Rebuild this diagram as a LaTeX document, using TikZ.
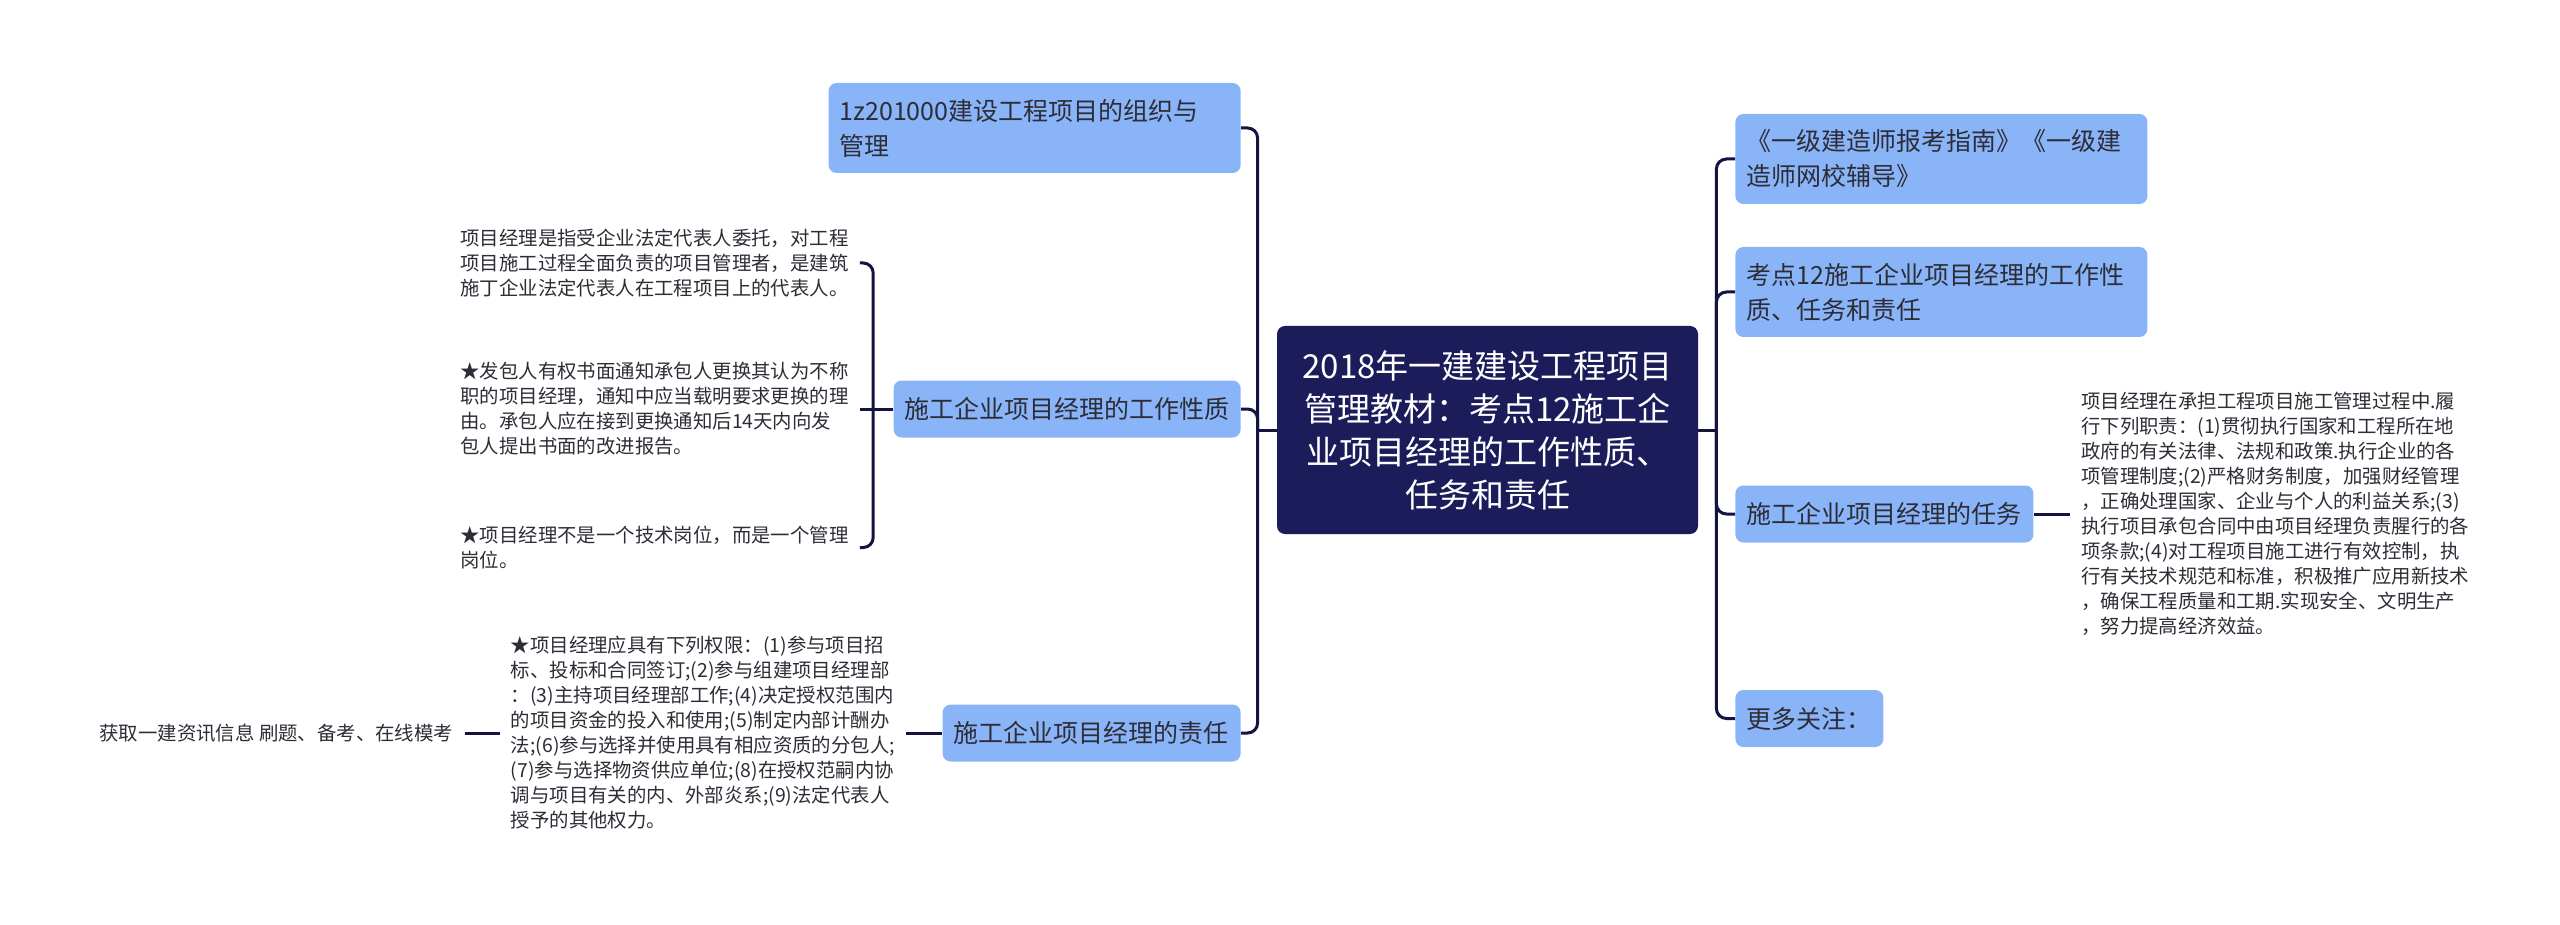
\documentclass[tikz,border=0pt]{standalone}
\usepackage{fontspec}
\setmainfont{Noto Sans CJK SC}
\usetikzlibrary{positioning}
\definecolor{RootNavy}{RGB}{29,28,90}
\definecolor{TopicBlue}{RGB}{138,180,248}
\definecolor{LineNavy}{RGB}{20,20,64}
\definecolor{TextDark}{RGB}{45,45,55}
\tikzset{
  rootbox/.style={rounded corners=4pt,fill=RootNavy,text=white,
    text width=195pt,minimum width=210.5pt,minimum height=104pt,
    align=center,font=\fontsize{16.5}{21.5}\selectfont},
  topicbox/.style={rounded corners=4pt,fill=TopicBlue,text=TextDark,
    inner xsep=5.5pt,align=left,font=\fontsize{12.5}{17.5}\selectfont},
  leaftext/.style={inner xsep=5.5pt,inner ysep=0pt,text=TextDark,
    align=left,font=\fontsize{9.7}{12.5}\selectfont},
  branch/.style={line width=1.5pt,draw=LineNavy,rounded corners=5pt},
}

\begin{document}
\begin{tikzpicture}[x=0.5pt,y=-0.5pt,node distance=18pt]
  \fill[white] (0,0) rectangle (2560,925);
  \useasboundingbox (0,0) rectangle (2560,925);

  % centre topic
  \node[rootbox] (root) at (1487.5,430) {2018年一建建设工程项目\\管理教材：考点12施工企\\业项目经理的工作性质、\\任务和责任};

  % left branches
  \node[topicbox,text width=195pt,minimum height=45pt,anchor=east] (org) at (1241,128) {1z201000建设工程项目的组织与\\管理};
  \node[topicbox,text width=162.5pt,minimum height=28.5pt,anchor=east] (nature) at (1241,409) {施工企业项目经理的工作性质};
  \node[topicbox,text width=138pt,minimum height=28.5pt,anchor=east] (duty) at (1241,733) {施工企业项目经理的责任};

  \node[leaftext,anchor=west] (nl1) at (449,263) {项目经理是指受企业法定代表人委托，对工程\\项目施工过程全面负责的项目管理者，是建筑\\施丁企业法定代表人在工程项目上的代表人。};
  \node[leaftext,anchor=west] (nl2) at (449,409) {★发包人有权书面通知承包人更换其认为不称\\职的项目经理，通知中应当载明要求更换的理\\由。承包人应在接到更换通知后14天内向发\\包人提出书面的改进报告。};
  \node[leaftext,anchor=west] (nl3) at (449,547.5) {★项目经理不是一个技术岗位，而是一个管理\\岗位。};

  \node[leaftext,left=18pt of duty] (dl) {★项目经理应具有下列权限：(1)参与项目招\\标、投标和合同签订;(2)参与组建项目经理部\\：(3)主持项目经理部工作;(4)决定授权范围内\\的项目资金的投入和使用;(5)制定内部计酬办\\法;(6)参与选择并使用具有相应资质的分包人;\\(7)参与选择物资供应单位;(8)在授权范嗣内协\\调与项目有关的内、外部炎系;(9)法定代表人\\授予的其他权力。};
  \node[leaftext,left=17.5pt of dl] (get) {获取一建资讯信息 刷题、备考、在线模考};

  % right branches
  \node[topicbox,text width=195pt,minimum height=45pt,anchor=west] (guide) at (1735,159) {《一级建造师报考指南》《一级建\\造师网校辅导》};
  \node[topicbox,text width=195pt,minimum height=45pt,anchor=west] (point) at (1735,292) {考点12施工企业项目经理的工作性\\质、任务和责任};
  \node[topicbox,text width=138pt,minimum height=28.5pt,anchor=west] (task) at (1735,514) {施工企业项目经理的任务};
  \node[topicbox,text width=63pt,minimum height=28.5pt,anchor=west] (more) at (1735,718.5) {更多关注：};

  \node[leaftext,right=18pt of task] (tl) {项目经理在承担工程项目施工管理过程中.履\\行下列职责：(1)贯彻执行国家和工程所在地\\政府的有关法律、法规和政策.执行企业的各\\项管理制度;(2)严格财务制度，加强财经管理\\，正确处理国家、企业与个人的利益关系;(3)\\执行项目承包合同中由项目经理负责腥行的各\\项条款;(4)对工程项目施工进行有效控制，执\\行有关技术规范和标准，积极推广应用新技术\\，确保工程质量和工期.实现安全、文明生产\\，努力提高经济效益。};

  % connectors
  \coordinate (ltrunk) at ([xshift=-9.5pt]root.west);
  \coordinate (rtrunk) at ([xshift=9pt]root.east);
  \coordinate (nbr) at ([xshift=-10pt]nature.west);

  \draw[branch] (root.west) -- (ltrunk);
  \draw[branch] (org.east) -| (ltrunk |- duty.east) -- (duty.east);
  \draw[branch] (nature.east) -| (ltrunk);

  \draw[branch] (root.east) -- (rtrunk);
  \draw[branch] (guide.west) -| (rtrunk |- more.west) -- (more.west);
  \draw[branch] (point.west) -| (rtrunk);
  \draw[branch] (task.west) -| (rtrunk);

  \draw[branch] (nl1.east) -| (nbr |- nl3.east) -- (nl3.east);
  \draw[branch] (nl2.east) -- (nature.west);
  \draw[branch] (duty.west) -- (dl.east);
  \draw[branch] (dl.west) -- (get.east);
  \draw[branch] (task.east) -- (tl.west);
\end{tikzpicture}
\end{document}
